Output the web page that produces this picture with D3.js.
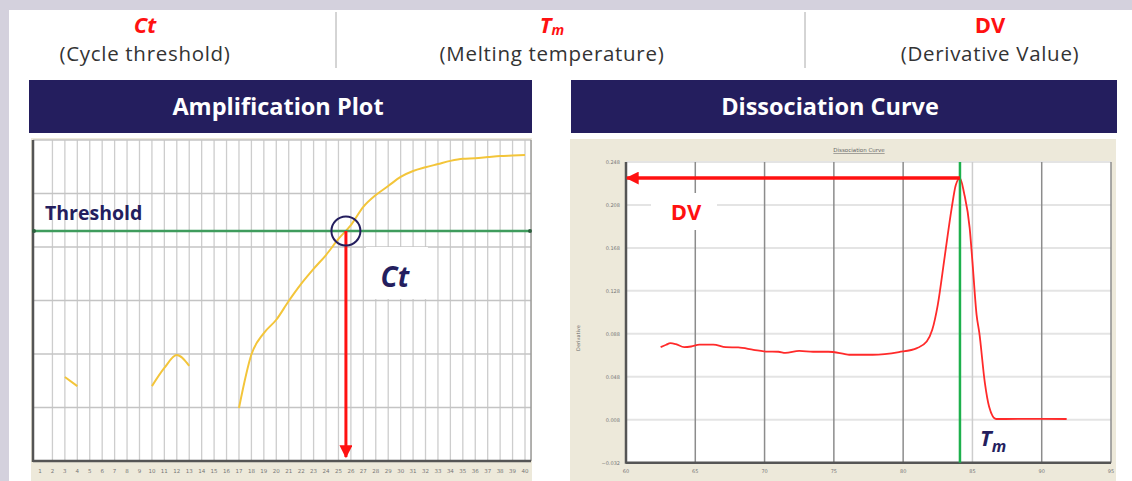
<!DOCTYPE html>
<html>
<head>
<meta charset="utf-8">
<script src="https://cdn.jsdelivr.net/npm/d3@7"></script>
<style>
  html, body { margin: 0; padding: 0; background: #fff; }
  svg { display: block; }
</style>
</head>
<body>
<svg id="chart" width="1132" height="481"></svg>
<script>
// ---- Amplification plot data (fluorescence per cycle; null = below display range)
const cycles = d3.range(1, 41);
const ampValues = [
  null, null, 1.57, 1.40, null, null, null, null, null, 1.40,
  1.74, 1.98, 1.78, null, null, null, 0.99, 1.99, 2.39, 2.64,
  2.99, 3.31, 3.59, 3.85, 4.15, 4.41, 4.75, 4.97, 5.14, 5.31,
  5.42, 5.49, 5.55, 5.61, 5.65, 5.66, 5.68, 5.70, 5.71, 5.72
];
const thresholdValue = 4.30;
const ctValue = 25.6;
const ampYBands = [0, 1, 2, 3, 4, 5, 6];

// ---- Dissociation curve data (temperature °C, derivative)
const meltTemps = [
  62.5, 62.9, 63.2, 63.6, 64.2, 64.7, 65.3, 66.3, 67.2, 68.1,
  69.2, 70.1, 71.0, 71.5, 72.5, 73.5, 74.6, 75.8, 76.1, 77.8,
  79.7, 81.0, 81.7, 82.1, 82.5, 83.0, 83.5, 83.8, 84.1,
  84.4, 84.8, 85.0, 85.3, 85.5, 85.9, 86.2, 86.7, 87.4, 89.8, 91.8
];
const meltDerivs = [
  0.0756, 0.0778, 0.0793, 0.0784, 0.0756, 0.0762, 0.0780, 0.0780, 0.0756, 0.0753,
  0.0731, 0.0715, 0.0713, 0.0703, 0.0722, 0.0713, 0.0713, 0.0691, 0.0685, 0.0685,
  0.0710, 0.0747, 0.0808, 0.0917, 0.1150, 0.1600, 0.2049, 0.2266, 0.2330,
  0.2189, 0.1866, 0.1553, 0.1057, 0.0886, 0.0421, 0.0204, 0.0087, 0.0087, 0.0089, 0.0087
];
const tmValue = 84.1;
const dvValue = 0.2330;
const meltXTicks = [60, 65, 70, 75, 80, 85, 90, 95];
const meltYTicks = [-0.032, 0.008, 0.048, 0.088, 0.128, 0.168, 0.208, 0.248];

// ---- Header labels
const headerItems = [
  { key: "Ct", sub: "(Cycle threshold)", cx: 145, italic: true },
  { key: "T", subscript: "m", sub: "(Melting temperature)", cx: 552, italic: true },
  { key: "DV", sub: "(Derivative Value)", cx: 990, italic: false }
];
const panelTitles = ["Amplification Plot", "Dissociation Curve"];

const NAVY = "#241e5e";
const RED = "#ff1111";
const FONT = "'Open Sans', Lato, sans-serif";

const svg = d3.select("#chart");

// page background + white card
svg.append("rect").attr("width", 1132).attr("height", 481).attr("fill", "#d4d1dd");
svg.append("rect").attr("x", 9).attr("y", 10).attr("width", 1123).attr("height", 471).attr("fill", "#fff");

// ---- header row
const head = svg.append("g");
headerItems.forEach(h => {
  const t = head.append("text")
    .attr("x", h.cx).attr("y", 33)
    .attr("text-anchor", "middle")
    .attr("font-family", FONT).attr("font-weight", 700)
    .attr("font-size", 22).attr("fill", RED)
    .attr("font-style", h.italic ? "italic" : "normal");
  t.append("tspan").text(h.key);
  if (h.subscript) {
    t.append("tspan").attr("font-size", 14).attr("dy", 2).text(h.subscript);
  }
  head.append("text")
    .attr("x", h.cx).attr("y", 61)
    .attr("text-anchor", "middle")
    .attr("font-family", FONT).attr("font-size", 20.5)
    .attr("letter-spacing", 0.7)
    .attr("fill", "#333").text(h.sub);
});
[336, 805].forEach(x => {
  head.append("line").attr("x1", x).attr("x2", x).attr("y1", 12).attr("y2", 68)
    .attr("stroke", "#aaa").attr("stroke-width", 1);
});

// ---- panel title bars
const bars = [
  { x: 29, w: 503, tx: 278 },
  { x: 571, w: 546, tx: 830 }
];
bars.forEach((b, i) => {
  svg.append("rect").attr("x", b.x).attr("y", 80).attr("width", b.w).attr("height", 53).attr("fill", NAVY);
  svg.append("text").attr("x", b.tx).attr("y", 115)
    .attr("text-anchor", "middle").attr("font-family", FONT)
    .attr("font-weight", 700).attr("font-size", 23.5).attr("fill", "#fff")
    .text(panelTitles[i]);
});

// arrow marker
const defs = svg.append("defs");
defs.append("marker").attr("id", "arrowRed")
  .attr("viewBox", "0 0 10 10").attr("refX", 9).attr("refY", 5)
  .attr("markerUnits", "userSpaceOnUse")
  .attr("markerWidth", 14).attr("markerHeight", 13)
  .attr("orient", "auto")
  .append("path").attr("d", "M0,0 L10,5 L0,10 Z").attr("fill", RED);

// =========================================================
// Amplification plot
// =========================================================
const amp = svg.append("g");
const aL = 33, aR = 531, aT = 140, aB = 461;
const xA = d3.scaleLinear().domain([1, 40]).range([40, 525]);
const yA = d3.scaleLinear().domain([0, 6]).range([aB, aT]);

amp.append("rect").attr("x", 31).attr("y", 138).attr("width", 501).attr("height", 343).attr("fill", "#ede9da");
amp.append("rect").attr("x", aL).attr("y", aT).attr("width", aR - aL).attr("height", aB - aT).attr("fill", "#fff");

// vertical cycle grid
amp.append("g").selectAll("line").data(cycles.slice(1)).join("line")
  .attr("x1", d => xA(d)).attr("x2", d => xA(d))
  .attr("y1", aT).attr("y2", aB)
  .attr("stroke", "#cdcdcd").attr("stroke-width", 1.3);
// horizontal bands
amp.append("g").selectAll("line").data(ampYBands.slice(1)).join("line")
  .attr("x1", aL).attr("x2", aR)
  .attr("y1", d => yA(d)).attr("y2", d => yA(d))
  .attr("stroke", "#c4c4c4").attr("stroke-width", 1.3);

// frame
amp.append("line").attr("x1", aR).attr("x2", aR).attr("y1", aT).attr("y2", aB).attr("stroke", "#9a9a9a").attr("stroke-width", 1.5);
amp.append("line").attr("x1", aL).attr("x2", aL).attr("y1", aT).attr("y2", aB + 1).attr("stroke", "#555").attr("stroke-width", 2.5);
amp.append("line").attr("x1", aL).attr("x2", aR).attr("y1", aB).attr("y2", aB).attr("stroke", "#555").attr("stroke-width", 2.5);

// cycle tick labels
amp.append("g").selectAll("text").data(cycles).join("text")
  .attr("x", d => xA(d)).attr("y", 473)
  .attr("text-anchor", "middle")
  .attr("font-family", "DejaVu Sans, sans-serif").attr("font-size", 5.5)
  .attr("fill", "#777").text(d => d);

// amplification curve
const ampLine = d3.line()
  .defined(d => d[1] !== null)
  .x(d => xA(d[0])).y(d => yA(d[1]))
  .curve(d3.curveMonotoneX);
amp.append("path")
  .datum(cycles.map((c, i) => [c, ampValues[i]]))
  .attr("d", ampLine)
  .attr("fill", "none").attr("stroke", "#f3c53a").attr("stroke-width", 2);

// threshold line
amp.append("line")
  .attr("x1", aL).attr("x2", aR)
  .attr("y1", yA(thresholdValue)).attr("y2", yA(thresholdValue))
  .attr("stroke", "#3f9c5d").attr("stroke-width", 2.5);
[aL + 1, aR - 1].forEach(x => amp.append("circle").attr("cx", x).attr("cy", yA(thresholdValue)).attr("r", 2).attr("fill", "#2f5f3f"));

amp.append("text").attr("x", 45).attr("y", 220)
  .attr("font-family", FONT).attr("font-weight", 700).attr("font-size", 19.5)
  .attr("fill", NAVY).text("Threshold");

// Ct arrow down to the cycle axis
amp.append("line")
  .attr("x1", xA(ctValue)).attr("x2", xA(ctValue))
  .attr("y1", yA(thresholdValue)).attr("y2", aB - 4)
  .attr("stroke", RED).attr("stroke-width", 3)
  .attr("marker-end", "url(#arrowRed)");
amp.append("circle")
  .attr("cx", xA(ctValue)).attr("cy", yA(thresholdValue)).attr("r", 14.5)
  .attr("fill", "none").attr("stroke", NAVY).attr("stroke-width", 2);

// Ct label
amp.append("rect").attr("x", xA(ctValue) + 20).attr("y", 247).attr("width", 62).attr("height", 52).attr("fill", "#fff");
amp.append("text").attr("x", xA(ctValue) + 49).attr("y", 287)
  .attr("text-anchor", "middle")
  .attr("font-family", FONT).attr("font-weight", 700).attr("font-style", "italic")
  .attr("font-size", 28).attr("fill", NAVY).text("Ct");

// =========================================================
// Dissociation curve
// =========================================================
const mel = svg.append("g");
const mL = 626, mR = 1111, mT = 162, mB = 462.7;
const xM = d3.scaleLinear().domain([60, 95]).range([mL, mR]);
const yM = d3.scaleLinear().domain([-0.032, 0.248]).range([mB, mT]);

mel.append("rect").attr("x", 570).attr("y", 139).attr("width", 546).attr("height", 342).attr("fill", "#ede9da");
mel.append("rect").attr("x", mL).attr("y", mT).attr("width", mR - mL).attr("height", mB - mT).attr("fill", "#fff");

// horizontal grid
mel.append("g").selectAll("line").data(meltYTicks.slice(1)).join("line")
  .attr("x1", mL).attr("x2", mR)
  .attr("y1", d => yM(d)).attr("y2", d => yM(d))
  .attr("stroke", "#e4e4e4").attr("stroke-width", 2);
// vertical grid
mel.append("g").selectAll("line").data(meltXTicks.slice(1)).join("line")
  .attr("x1", d => xM(d)).attr("x2", d => xM(d))
  .attr("y1", mT).attr("y2", mB)
  .attr("stroke", d => d === 85 ? "#cdcdcd" : "#8c8c8c")
  .attr("stroke-width", 1.5);

// axes lines
mel.append("line").attr("x1", mL).attr("x2", mL).attr("y1", mT).attr("y2", mB + 1).attr("stroke", "#555").attr("stroke-width", 2.5);
mel.append("line").attr("x1", mL).attr("x2", mR).attr("y1", mB).attr("y2", mB).attr("stroke", "#555").attr("stroke-width", 2.5);

// tick labels
mel.append("g").selectAll("text").data(meltXTicks).join("text")
  .attr("x", d => xM(d)).attr("y", 473)
  .attr("text-anchor", "middle")
  .attr("font-family", "DejaVu Sans, sans-serif").attr("font-size", 5)
  .attr("fill", "#777").text(d => d);
mel.append("g").selectAll("text").data(meltYTicks).join("text")
  .attr("x", mL - 6).attr("y", d => yM(d) + 2)
  .attr("text-anchor", "end")
  .attr("font-family", "DejaVu Sans, sans-serif").attr("font-size", 5)
  .attr("fill", "#777").text(d => d3.format(".3f")(d));

// tiny chart title + axis title
mel.append("text").attr("x", 859).attr("y", 152)
  .attr("text-anchor", "middle")
  .attr("font-family", "DejaVu Sans, sans-serif").attr("font-size", 5.5)
  .attr("text-decoration", "underline")
  .attr("fill", "#666").text("Dissociation Curve");
mel.append("text")
  .attr("transform", "translate(580,338) rotate(-90)")
  .attr("text-anchor", "middle")
  .attr("font-family", "DejaVu Sans, sans-serif").attr("font-size", 5)
  .attr("fill", "#666").text("Derivative");

// melt curve
mel.append("path")
  .datum(meltTemps.map((t, i) => [t, meltDerivs[i]]))
  .attr("d", d3.line().x(d => xM(d[0])).y(d => yM(d[1])).curve(d3.curveMonotoneX))
  .attr("fill", "none").attr("stroke", "#ff2a2a").attr("stroke-width", 1.8);

// Tm line
mel.append("line")
  .attr("x1", xM(tmValue)).attr("x2", xM(tmValue))
  .attr("y1", mT).attr("y2", mB)
  .attr("stroke", "#1db04c").attr("stroke-width", 2.5);

// DV arrow to the derivative axis
mel.append("line")
  .attr("x1", xM(tmValue)).attr("x2", mL + 1)
  .attr("y1", yM(dvValue)).attr("y2", yM(dvValue))
  .attr("stroke", RED).attr("stroke-width", 3.5)
  .attr("marker-end", "url(#arrowRed)");

// DV label
mel.append("rect").attr("x", 651).attr("y", 193).attr("width", 66).attr("height", 37).attr("fill", "#fff");
mel.append("text").attr("x", 686).attr("y", 220)
  .attr("text-anchor", "middle")
  .attr("font-family", FONT).attr("font-weight", 700)
  .attr("font-size", 22).attr("fill", RED).text("DV");

// Tm label
const tmLabel = mel.append("text").attr("x", xM(tmValue) + 20).attr("y", 446)
  .attr("font-family", FONT).attr("font-weight", 700).attr("font-style", "italic")
  .attr("fill", NAVY);
tmLabel.append("tspan").attr("font-size", 22).text("T");
tmLabel.append("tspan").attr("font-size", 16).attr("dy", 6).text("m");
</script>
</body>
</html>
